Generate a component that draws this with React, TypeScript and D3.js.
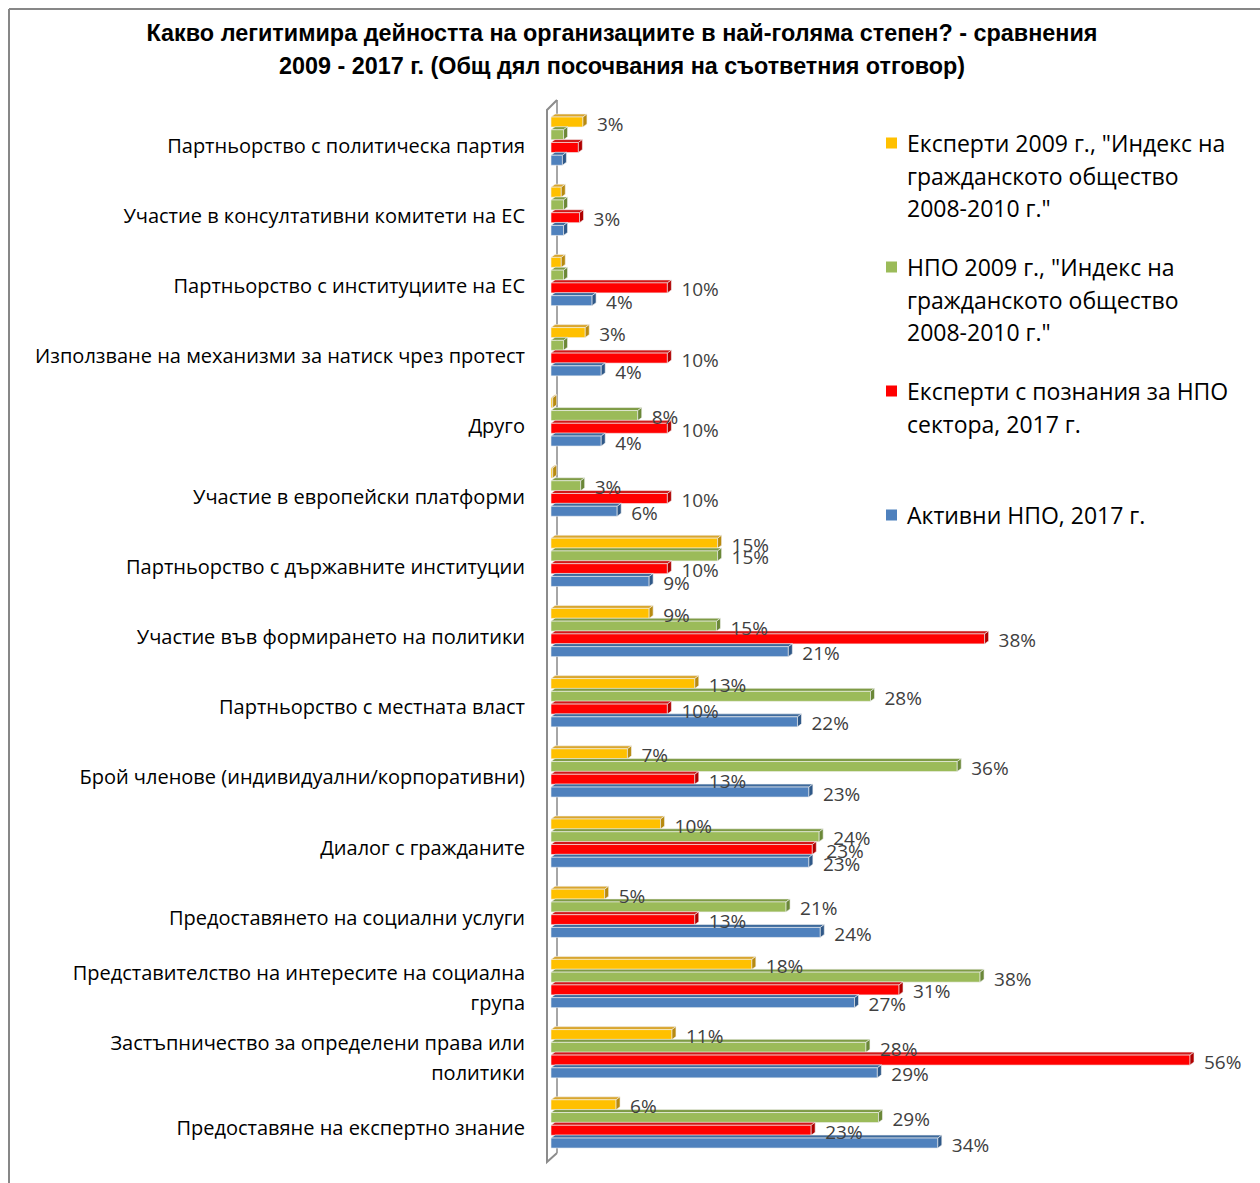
import React from 'react';
import * as d3 from 'd3';

const categories = [
  'Партньорство с политическа партия',
  'Участие в консултативни комитети на ЕС',
  'Партньорство с институциите на ЕС',
  'Използване на механизми за натиск чрез протест',
  'Друго',
  'Участие в европейски платформи',
  'Партньорство с държавните институции',
  'Участие във формирането на политики',
  'Партньорство с местната власт',
  'Брой членове (индивидуални/корпоративни)',
  'Диалог с гражданите',
  'Предоставянето на социални услуги',
  'Представителство на интересите на социална\nгрупа',
  'Застъпничество за определени права или\nполитики',
  'Предоставяне на експертно знание',
];

const experts2009 = [2.8, 0.9, 0.9, 3, 0.15, 0.15, 14.6, 8.6, 12.6, 6.7, 9.6, 4.7, 17.6, 10.6, 5.7];
const ngo2009 = [1.1, 1.1, 1.1, 1.1, 7.6, 2.6, 14.6, 14.5, 28, 35.6, 23.5, 20.6, 37.6, 27.6, 28.7];
const experts2017 = [2.4, 2.5, 10.2, 10.2, 10.2, 10.2, 10.2, 38, 10.2, 12.6, 22.9, 12.6, 30.5, 56, 22.8];
const active2017 = [1.0, 1.1, 3.6, 4.4, 4.4, 5.8, 8.6, 20.8, 21.6, 22.6, 22.6, 23.6, 26.6, 28.6, 33.9];

const showExperts2009 = [1, 0, 0, 1, 0, 0, 1, 1, 1, 1, 1, 1, 1, 1, 1];
const showNgo2009 = [0, 0, 0, 0, 1, 1, 1, 1, 1, 1, 1, 1, 1, 1, 1];
const showExperts2017 = [0, 1, 1, 1, 1, 1, 1, 1, 1, 1, 1, 1, 1, 1, 1];
const showActive2017 = [0, 0, 1, 1, 1, 1, 1, 1, 1, 1, 1, 1, 1, 1, 1];

const seriesNames = [
  'Експерти 2009 г., "Индекс на\nгражданското общество\n2008-2010 г."',
  'НПО 2009 г., "Индекс на\nгражданското общество\n2008-2010 г."',
  'Експерти с познания за НПО\nсектора, 2017 г.',
  'Активни НПО, 2017 г.',
];

const titleLines = [
  'Какво легитимира дейността на организациите в най-голяма степен? - сравнения',
  '2009 - 2017 г. (Общ дял посочвания  на съответния отговор)',
];

const series = [
  { name: seriesNames[0], values: experts2009, show: showExperts2009, front: '#FFC000', top: '#D9A62E', side: '#B88A10' },
  { name: seriesNames[1], values: ngo2009, show: showNgo2009, front: '#9BBB59', top: '#7E9B45', side: '#6B8838' },
  { name: seriesNames[2], values: experts2017, show: showExperts2017, front: '#FF0000', top: '#D01818', side: '#B00000' },
  { name: seriesNames[3], values: active2017, show: showActive2017, front: '#4F81BD', top: '#3E6A9C', side: '#2F5888' },
];

const FONT = '"Open Sans", "DejaVu Sans", sans-serif';

export default function App() {
  const x = d3.scaleLinear().domain([0, 56]).range([551, 1190]);
  const y = d3.scaleBand<string>().domain(categories).range([106, 1159]).paddingInner(0).paddingOuter(0);
  const inner = d3.scaleBand<number>().domain([0, 1, 2, 3]).range([8, 59]).padding(0);
  const dx = 4;
  const dy = 3;
  const h = 10;

  const bars: React.ReactNode[] = [];
  const labels: React.ReactNode[] = [];
  categories.forEach((c, ci) => {
    series.forEach((s, si) => {
      const v = s.values[ci];
      const x0 = x(0);
      const xe = x(v);
      const yf = (y(c) as number) + (inner(si) as number) + dy;
      bars.push(
        <g key={`b-${ci}-${si}`} stroke="#F2F2F2" strokeWidth={0.6} strokeLinejoin="round">
          <polygon points={`${x0},${yf} ${x0 + dx},${yf - dy} ${xe + dx},${yf - dy} ${xe},${yf}`} fill={s.top} />
          <rect x={x0} y={yf} width={Math.max(xe - x0, 0.5)} height={h} fill={s.front} />
          <polygon points={`${xe},${yf} ${xe + dx},${yf - dy} ${xe + dx},${yf + h - dy} ${xe},${yf + h}`} fill={s.side} />
        </g>
      );
      if (s.show[ci]) {
        labels.push(
          <text key={`l-${ci}-${si}`} x={xe + dx + 10} y={yf + h / 2 + 1.5} dominantBaseline="central"
            fontSize={19} fill="#404040" fontFamily={FONT}>
            {`${Math.round(v)}%`}
          </text>
        );
      }
    });
  });

  const legendY = [143, 267, 391, 515];

  return (
    <svg width={1260} height={1183} style={{ position: 'absolute', left: 0, top: 0, background: '#fff' }}
      fontFamily={FONT}>
      <rect x={0} y={0} width={1260} height={1183} fill="#fff" />
      <line x1={9} y1={9} x2={1260} y2={9} stroke="#878787" strokeWidth={2} />
      <line x1={9} y1={9} x2={9} y2={1183} stroke="#878787" strokeWidth={2} />

      {titleLines.map((t, i) => (
        <text key={`t${i}`} x={622} y={33 + i * 33} textAnchor="middle" dominantBaseline="central"
          fontSize={23} fontWeight="bold" fill="#000" fontFamily='"Liberation Sans Narrow", "Liberation Sans", sans-serif'
          textLength={i === 0 ? 951 : 686} lengthAdjust="spacingAndGlyphs">
          {t}
        </text>
      ))}

      {/* back wall line */}
      <line x1={557} y1={100} x2={557} y2={1153} stroke="#A6A6A6" strokeWidth={2} />

      {bars}

      {/* front axis line */}
      <path d={`M557,100 L547,110 L547,1162 L557,1153`} fill="none" stroke="#8C8C8C" strokeWidth={2} />

      {labels}

      {categories.map((c) => {
        const lines = c.split('\n');
        const cy = (y(c) as number) + 39;
        return (
          <text key={`c-${c}`} x={525} textAnchor="end" fontSize={20} fill="#000">
            {lines.map((ln, li) => (
              <tspan key={li} x={525} y={cy + (li - (lines.length - 1) / 2) * 29.5} dominantBaseline="central">{ln}</tspan>
            ))}
          </text>
        );
      })}

      {series.map((s, si) => {
        const lines = s.name.split('\n');
        return (
          <g key={`lg${si}`}>
            <rect x={886} y={legendY[si] - 5.5} width={11} height={11} fill={s.front} />
            <text fontSize={23} fill="#000">
              {lines.map((ln, li) => (
                <tspan key={li} x={907} y={legendY[si] + li * 32.5} dominantBaseline="central">{ln}</tspan>
              ))}
            </text>
          </g>
        );
      })}
    </svg>
  );
}
